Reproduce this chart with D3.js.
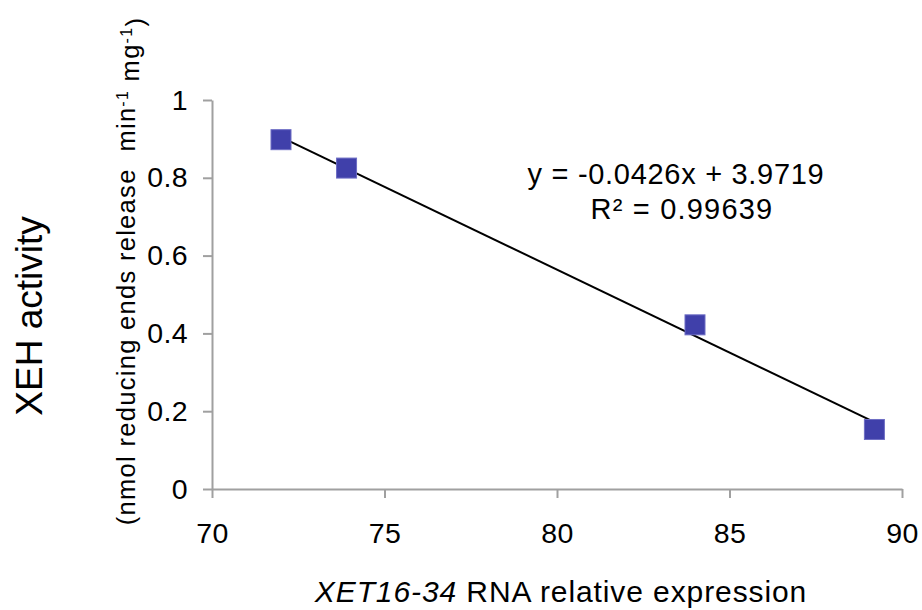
<!DOCTYPE html>
<meta charset="utf-8">
<body style="margin:0;background:#fff">
<style>
  text { font-family: "Liberation Sans", Arial, sans-serif; fill: #000; }
  .tick text { font-size: 28.5px; letter-spacing: 0.4px; }
  .axis path, .axis line { stroke: #a0a0a0; stroke-width: 2px; }
</style>
<svg width="922" height="610"></svg>
<script src="https://d3js.org/d3.v7.min.js"></script>
<script>

var xExpr = [72.0, 73.9, 84.0, 89.2];
var xehAct = [0.898, 0.825, 0.422, 0.153];
var xTicks = [70, 75, 80, 85, 90];
var yTicks = [0, 0.2, 0.4, 0.6, 0.8, 1];
var slope = -0.0426, intercept = 3.9719, r2 = "0.99639";

var svg = d3.select("svg");

var x = d3.scaleLinear().domain([70, 90]).range([212, 902]);
var y = d3.scaleLinear().domain([0, 1]).range([489, 100]);

svg.append("g")
   .attr("class", "axis")
   .attr("transform", "translate(0,489)")
   .call(d3.axisBottom(x).tickValues(xTicks).tickSize(9).tickSizeOuter(0).tickPadding(25))
   .call(function(g){ g.selectAll(".tick text").attr("dy", "0.71em"); });

svg.append("g")
   .attr("class", "axis")
   .attr("transform", "translate(212,0)")
   .call(d3.axisLeft(y).tickValues(yTicks).tickSize(9).tickSizeOuter(0).tickPadding(15)
         .tickFormat(function(d){ return d3.format("")(+d.toFixed(1)); }));

// trendline
var x0 = d3.min(xExpr), x1 = d3.max(xExpr);
svg.append("line")
   .attr("x1", x(x0)).attr("y1", y(slope * x0 + intercept))
   .attr("x2", x(x1)).attr("y2", y(slope * x1 + intercept))
   .attr("stroke", "#000").attr("stroke-width", 2);

// markers
var s = 20;
svg.append("g").selectAll("rect")
   .data(xExpr)
   .enter().append("rect")
   .attr("x", function(d){ return x(d) - s/2; })
   .attr("y", function(d, i){ return y(xehAct[i]) - s/2; })
   .attr("width", s).attr("height", s)
   .attr("fill", "#4040aa")
   .attr("stroke", "#6d6dc4").attr("stroke-width", 1);

// equation
svg.append("text")
   .attr("x", 676).attr("y", 184)
   .attr("text-anchor", "middle").style("font-size", "29px").style("letter-spacing", "0.7px")
   .text("y = " + slope + "x + " + intercept);
svg.append("text")
   .attr("x", 682).attr("y", 219)
   .attr("text-anchor", "middle").style("font-size", "29px").style("letter-spacing", "1.2px")
   .text("R\u00b2 = " + r2);

// x title
var xt = svg.append("text")
   .attr("x", 561).attr("y", 602)
   .attr("text-anchor", "middle").style("font-size", "30px").style("letter-spacing", "0.9px");
xt.append("tspan").style("font-style", "italic").text("XET16-34");
xt.append("tspan").text(" RNA relative expression");

// y titles
svg.append("text")
   .attr("transform", "translate(42,316) rotate(-90)")
   .attr("text-anchor", "middle").style("font-size", "37px")
   .text("XEH activity");

var yt = svg.append("text")
   .attr("transform", "translate(135,271) rotate(-90)")
   .attr("text-anchor", "middle").style("font-size", "25.5px").style("letter-spacing", "1.3px")
   .attr("xml:space", "preserve");
yt.append("tspan").text("(nmol reducing ends release\u00a0 min");
yt.append("tspan").attr("dy", "-0.45em").style("font-size", "16px").text("-1");
yt.append("tspan").attr("dy", "0.45em").text(" mg");
yt.append("tspan").attr("dy", "-0.45em").style("font-size", "16px").text("-1");
yt.append("tspan").attr("dy", "0.45em").text(")");

</script>
</body>
